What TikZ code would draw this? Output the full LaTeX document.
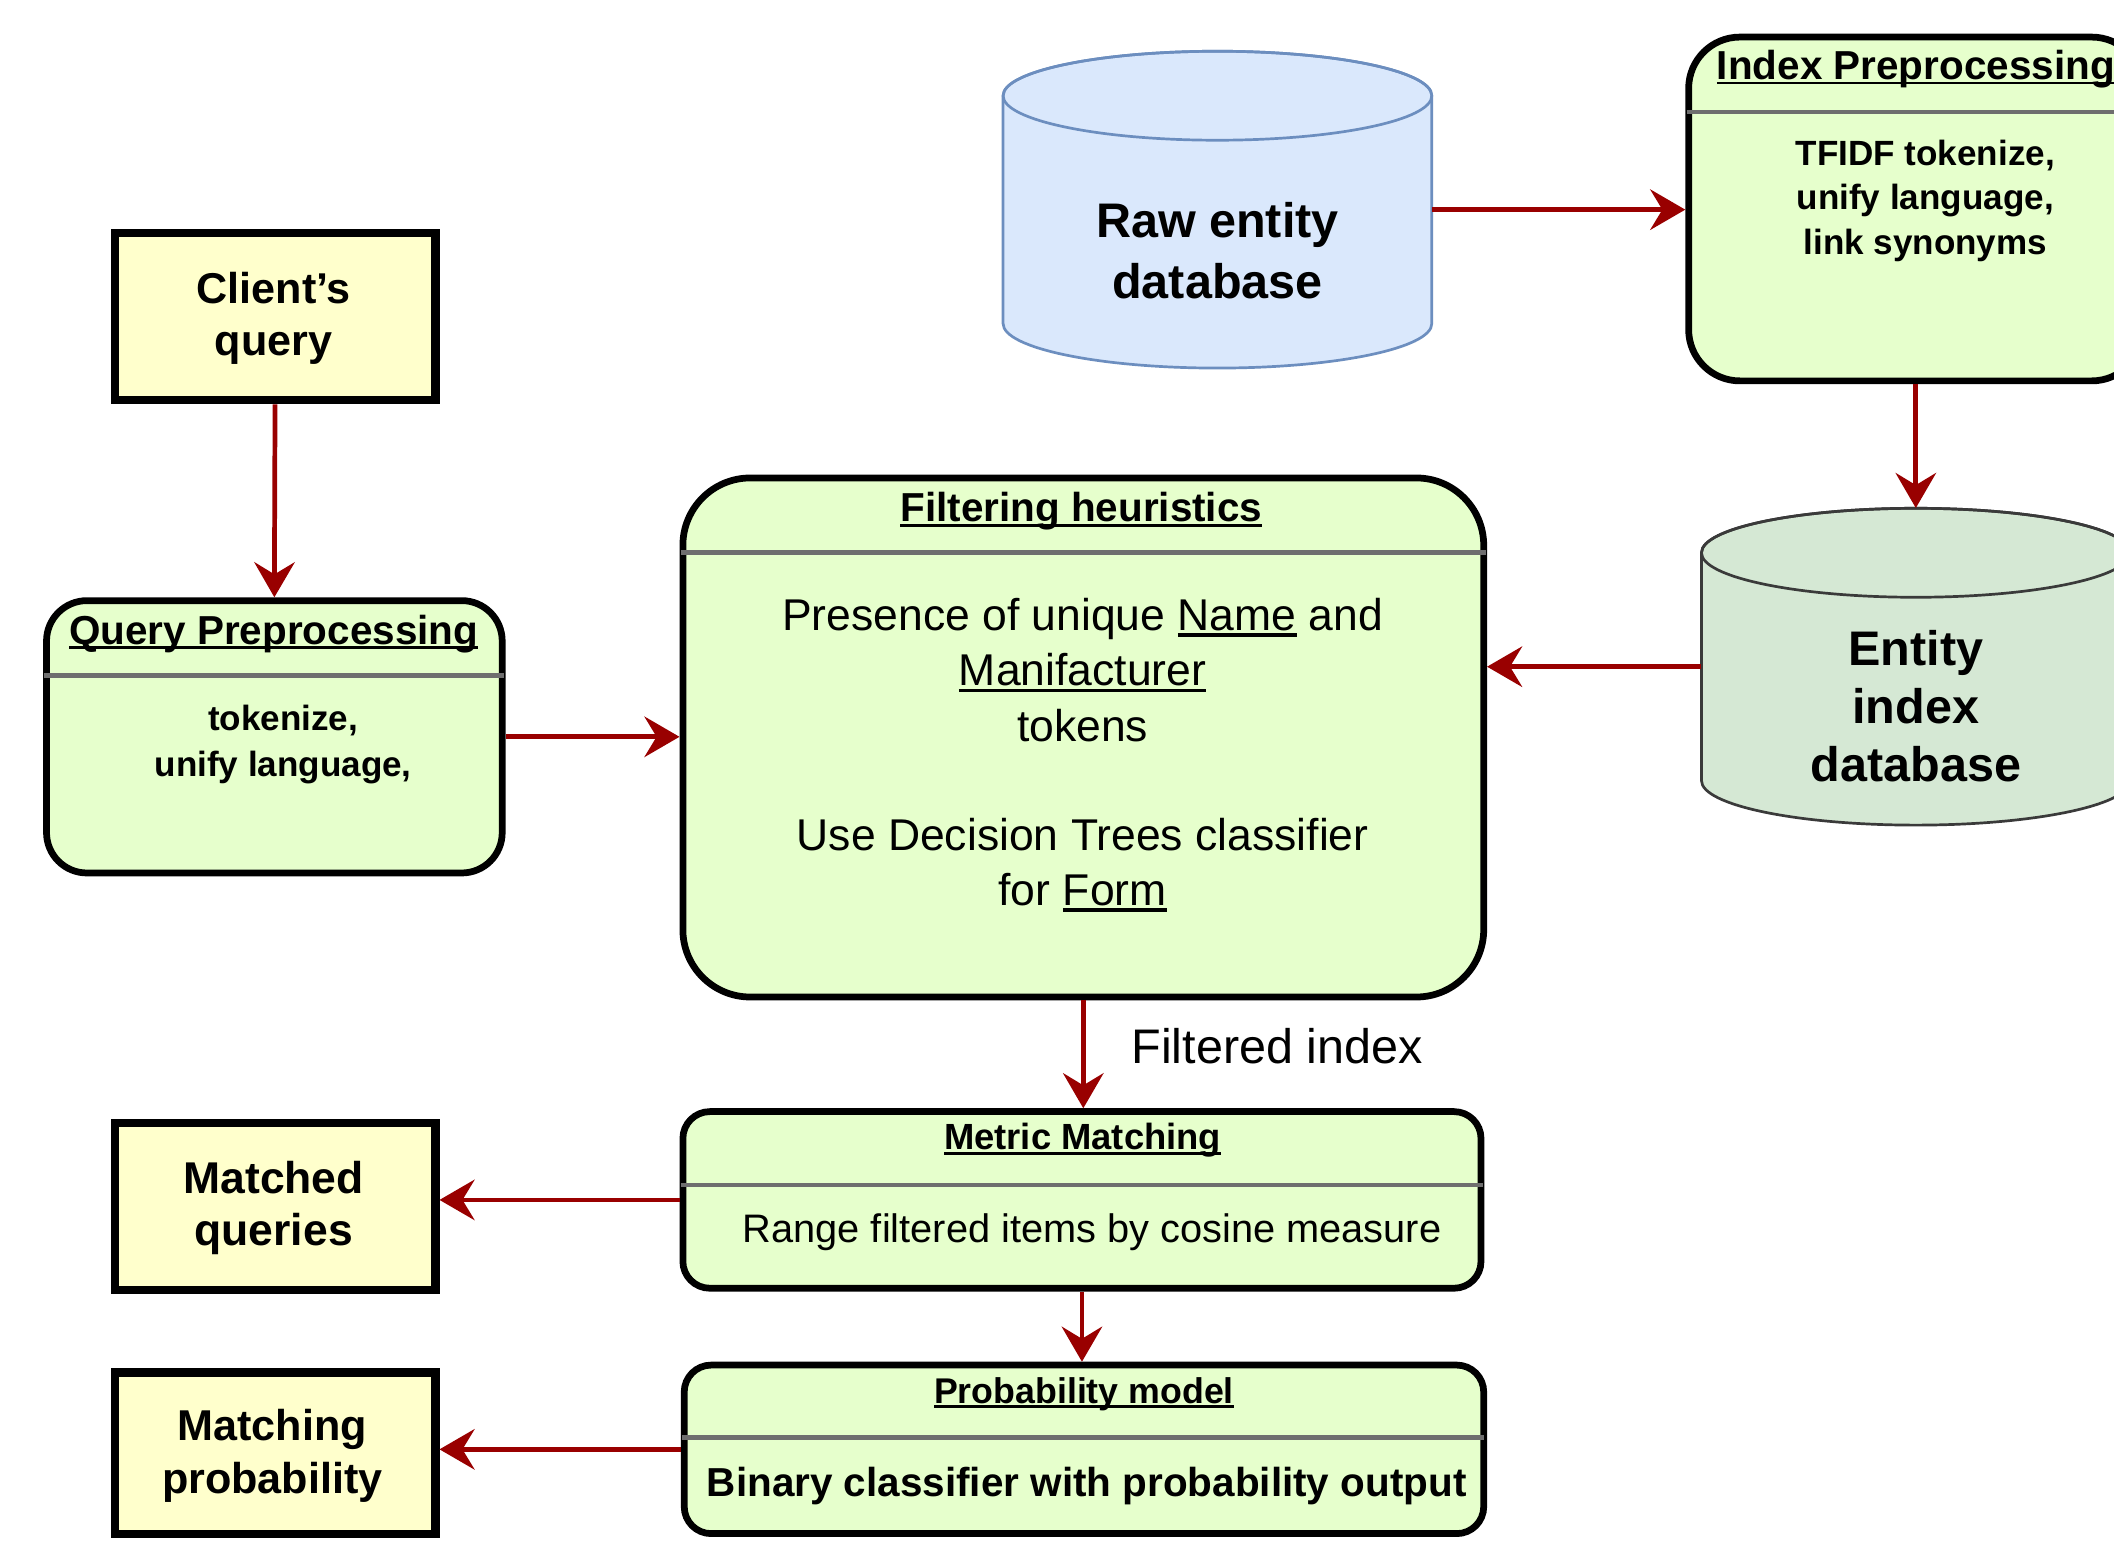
\documentclass[tikz,border=0pt]{standalone}
\usepackage{fontspec}
\setmainfont{Liberation Sans}
\usetikzlibrary{arrows.meta}
\definecolor{arrred}{HTML}{990000}
\definecolor{boxgreen}{HTML}{E6FFCC}
\definecolor{boxyellow}{HTML}{FFFFCC}
\definecolor{cylblue}{HTML}{DAE8FC}
\definecolor{cylbluedraw}{HTML}{6C8EBF}
\definecolor{cylgreen}{HTML}{D5E8D4}
\definecolor{cylgreendraw}{HTML}{3A3A3A}
\definecolor{divgray}{HTML}{6E6E6E}
\newcommand\fsz[2]{\fontsize{#1pt}{#2pt}\selectfont}
\newsavebox\myulbox
\newcommand\myul[1]{\sbox\myulbox{#1}\rlap{\rule[-0.13em]{\wd\myulbox}{0.07em}}\usebox\myulbox}
\tikzset{
  termbox/.style={draw=black, line width=6pt, fill=boxyellow, inner sep=0pt},
  procbox/.style={draw=black, line width=5pt, fill=boxgreen, inner sep=0pt},
  divider/.style={draw=divgray, line width=3.5pt},
  txt/.style={inner sep=0pt, align=center, text=black},
  arr/.style={draw=arrred, line width=3.5pt, -{Stealth[length=26pt,width=30pt,inset=9pt]}},
}
\begin{document}
\begin{tikzpicture}[x=1pt,y=-1pt]
\useasboundingbox (0,0) rectangle (1568,1143);
\clip (0,0) rectangle (1568,1143);
\fill[white] (0,0) rectangle (1568,1143);

% Raw entity database cylinder
\path[fill=cylblue, draw=cylbluedraw, line width=2pt]
  (744,71) -- (744,240) arc[start angle=180,end angle=0,x radius=159,y radius=33]
  -- (1062,71) arc[start angle=0,end angle=-180,x radius=159,y radius=33] -- cycle;
\draw[cylbluedraw, line width=2pt] (903,71) ellipse[x radius=159,y radius=33];
\node[inner sep=0pt, minimum width=318pt, minimum height=235pt] (raw) at (903,155.5) {};
\node[txt, font=\fsz{36}{45}\bfseries] (rawtxt) at (903,186) {Raw entity\\database};

% Entity index database cylinder
\path[fill=cylgreen, draw=cylgreendraw, line width=2pt]
  (1262,410) -- (1262,579) arc[start angle=180,end angle=0,x radius=159,y radius=33]
  -- (1580,410) arc[start angle=0,end angle=-180,x radius=159,y radius=33] -- cycle;
\draw[cylgreendraw, line width=2pt] (1421,410) ellipse[x radius=159,y radius=33];
\node[inner sep=0pt, minimum width=318pt, minimum height=235pt] (edb) at (1421,494.5) {};
\node[txt, font=\fsz{36}{43}\bfseries] (edbtxt) at (1421,524) {Entity\\index\\database};

% Index Preprocessing
\node[procbox, rounded corners=38pt, minimum width=337pt, minimum height=255pt] (ip) at (1421,155) {};
\draw[divider] (1251,83) -- (1592,83);
\node[txt, font=\fsz{30}{36}\bfseries] (iptitle) at (1421,51) {\myul{Index Preprocessing}};
\node[txt, font=\fsz{26}{33}\bfseries] (ipbody) at (1428,149) {TFIDF tokenize,\\unify language,\\link synonyms};

% Client's query
\node[termbox, minimum width=238pt, minimum height=124pt] (client) at (204,235) {};
\node[txt, font=\fsz{32}{39}\bfseries] (clienttxt) at (203,236) {Client{\char"27}s\\query};

% Query Preprocessing
\node[procbox, rounded corners=30pt, minimum width=338pt, minimum height=202pt] (qp) at (203.5,546.5) {};
\draw[divider] (33,501) -- (374,501);
\node[txt, font=\fsz{30}{36}\bfseries] (qptitle) at (203,470) {\myul{Query Preprocessing}};
\node[txt, font=\fsz{26}{34}\bfseries] (qpbody) at (210,552) {tokenize,\\unify language,};

% Filtering heuristics
\node[procbox, rounded corners=50pt, minimum width=594pt, minimum height=385pt] (fh) at (803.5,547) {};
\draw[divider] (505,410) -- (1102,410);
\node[txt, font=\fsz{30}{36}\bfseries] (fhtitle) at (802,379) {\myul{Filtering heuristics}};
\node[txt, font=\fsz{33}{41}] (fhbody) at (803,560) {Presence of unique \myul{Name} and\\\myul{Manifacturer}\\tokens\\[40pt]Use Decision Trees classifier\\for \myul{Form}};

% Metric Matching
\node[procbox, rounded corners=20pt, minimum width=592pt, minimum height=131pt] (mm) at (802.5,890) {};
\draw[divider] (505,879) -- (1100,879);
\node[txt, font=\fsz{27}{33}\bfseries] (mmtitle) at (803,846) {\myul{Metric Matching}};
\node[txt, font=\fsz{29.5}{36}] (mmbody) at (810,914) {Range filtered items by cosine measure};

% Probability model
\node[procbox, rounded corners=20pt, minimum width=593pt, minimum height=125pt] (pm) at (804,1075) {};
\draw[divider] (506,1066) -- (1101,1066);
\node[txt, font=\fsz{26.5}{33}\bfseries] (pmtitle) at (804,1034) {\myul{Probability model}};
\node[txt, font=\fsz{30}{36}\bfseries] (pmbody) at (806,1102) {Binary classifier with probability output};

% Output boxes
\node[termbox, minimum width=238pt, minimum height=124pt] (matched) at (204,895) {};
\node[txt, font=\fsz{33}{38}\bfseries] (matchedtxt) at (203,896) {Matched\\queries};
\node[termbox, minimum width=238pt, minimum height=120pt] (mprob) at (204,1078) {};
\node[txt, font=\fsz{32}{39}\bfseries] (mprobtxt) at (202,1080) {Matching\\probability};

% Connectors
\draw[arr] (raw.east) -- (ip.west |- raw.east);
\draw[arr] (ip.south) -- (edb.north);
\draw[arr] (edb.west) -- (edb.west -| fh.east);
\draw[arr] (client.south) -- (qp.north);
\draw[arr] (qp.east) -- (fh.west |- qp.east);
\draw[arr] (fh.south) -- (fh.south |- mm.north)
  node[pos=0.42, right=34pt, inner sep=0pt, font=\fsz{36}{42}] (filt) {Filtered index};
\draw[arr] (mm.south) -- (mm.south |- pm.north);
\draw[arr] (mm.west) -- (mm.west -| matched.east);
\draw[arr] (pm.west) -- (pm.west -| mprob.east);
\end{tikzpicture}
\end{document}
